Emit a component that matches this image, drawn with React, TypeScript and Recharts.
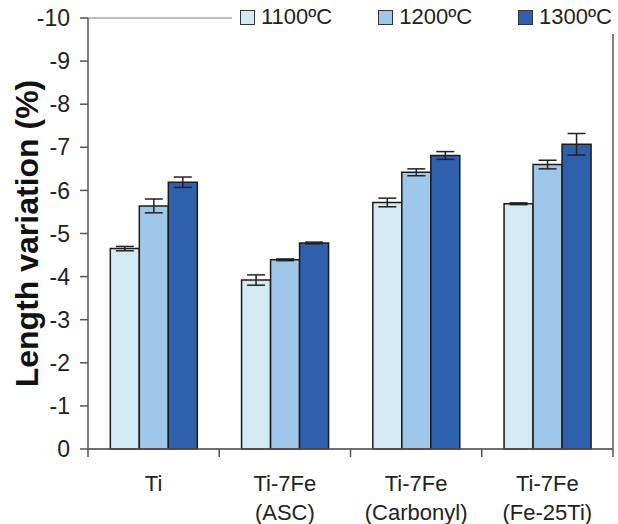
import { BarChart, Bar, XAxis, YAxis, CartesianGrid, ErrorBar, Legend, Label } from "recharts";

// groups on the x axis
const categories = ["Ti", "Ti-7Fe (ASC)", "Ti-7Fe (Carbonyl)", "Ti-7Fe (Fe-25Ti)"];

// length variation (%) per sintering temperature
const v1100 = [-4.65, -3.92, -5.72, -5.69];
const v1200 = [-5.64, -4.39, -6.42, -6.6];
const v1300 = [-6.19, -4.78, -6.81, -7.07];

// error bars (+/-)
const e1100 = [0.05, 0.12, 0.1, 0.02];
const e1200 = [0.16, 0.02, 0.08, 0.1];
const e1300 = [0.12, 0.02, 0.09, 0.25];

const yTicks = [0, -1, -2, -3, -4, -5, -6, -7, -8, -9, -10];

const series = [
  { key: "t1100", err: "e1100", name: "1100ºC", color: "#d3eaf4" },
  { key: "t1200", err: "e1200", name: "1200ºC", color: "#9fc7ea" },
  { key: "t1300", err: "e1300", name: "1300ºC", color: "#2f60ae" },
];

const data = categories.map((name, i) => ({
  name,
  t1100: v1100[i],
  t1200: v1200[i],
  t1300: v1300[i],
  e1100: e1100[i],
  e1200: e1200[i],
  e1300: e1300[i],
}));

const W = 618;
const H = 524;
const Y_AXIS_W = 88;
const RIGHT_W = 5;
const X_AXIS_H = 75;
const FONT = "'Liberation Sans', Arial, sans-serif";
const AXIS = "#555";

function CategoryTick(props: any) {
  const { x, y, payload, index } = props;
  const band = (W - Y_AXIS_W - RIGHT_W) / categories.length;
  const [first, ...rest] = String(payload.value).split(" ");
  return (
    <g>
      <line x1={x - band / 2} x2={x - band / 2} y1={y} y2={y + 8} stroke={AXIS} strokeWidth={1.5} />
      {index === categories.length - 1 && (
        <line x1={x + band / 2} x2={x + band / 2} y1={y} y2={y + 8} stroke={AXIS} strokeWidth={1.5} />
      )}
      <text x={x} y={y + 42} textAnchor="middle" fontSize={22} fill="#222" fontFamily={FONT}>
        {first}
      </text>
      {rest.length > 0 && (
        <text x={x} y={y + 71} textAnchor="middle" fontSize={22} fill="#222" fontFamily={FONT}>
          {rest.join(" ")}
        </text>
      )}
    </g>
  );
}

function TempLegend(props: any) {
  const { payload } = props;
  return (
    <div style={{ display: "flex", background: "#fff", height: 34, alignItems: "center", paddingLeft: 8 }}>
      {(payload || []).map((p: any) => (
        <div key={p.value} style={{ display: "flex", alignItems: "center", marginRight: 46 }}>
          <span
            style={{
              display: "inline-block",
              width: 13,
              height: 13,
              background: p.color,
              border: "1px solid #333",
              marginRight: 6,
            }}
          />
          <span style={{ fontFamily: FONT, fontSize: 22, color: "#222" }}>{p.value}</span>
        </div>
      ))}
    </div>
  );
}

export default function App() {
  return (
    <div style={{ position: "absolute", left: 0, top: 0, width: W, height: H, background: "#fff" }}>
      <BarChart
        width={W}
        height={H}
        data={data}
        margin={{ top: 18, right: 0, bottom: 0, left: 0 }}
        barCategoryGap="17%"
        barGap={0}
      >
        <CartesianGrid horizontal vertical={false} stroke="#777" strokeWidth={1.2} />
        <XAxis
          dataKey="name"
          height={X_AXIS_H}
          tick={<CategoryTick />}
          tickLine={false}
          tickSize={0}
          tickMargin={0}
          axisLine={{ stroke: AXIS, strokeWidth: 1.5 }}
          interval={0}
        />
        <YAxis
          yAxisId="left"
          width={Y_AXIS_W}
          reversed
          domain={[-10, 0]}
          ticks={yTicks}
          interval={0}
          tickSize={8}
          tickMargin={10}
          tickLine={{ stroke: AXIS, strokeWidth: 1.5 }}
          axisLine={{ stroke: AXIS, strokeWidth: 1.5 }}
          tick={{ fontSize: 23, fill: "#222", fontFamily: FONT }}
        >
          <Label
            value="Length variation (%)"
            angle={-90}
            position="insideLeft"
            offset={27}
            style={{ textAnchor: "middle", fontSize: 32, fontWeight: "bold", fill: "#111", fontFamily: FONT }}
          />
        </YAxis>
        <YAxis
          yAxisId="right"
          orientation="right"
          width={RIGHT_W}
          domain={[-10, 0]}
          tick={false}
          tickLine={false}
          axisLine={{ stroke: AXIS, strokeWidth: 1.5 }}
        />
        <Legend
          layout="horizontal"
          verticalAlign="middle"
          content={<TempLegend />}
          wrapperStyle={{ top: 0, left: 232, width: 386 }}
        />
        {series.map((s) => (
          <Bar
            key={s.key}
            yAxisId="left"
            dataKey={s.key}
            name={s.name}
            fill={s.color}
            stroke="#1c1c1c"
            strokeWidth={1.5}
            isAnimationActive={false}
          >
            <ErrorBar dataKey={s.err} width={9} stroke="#222" strokeWidth={1.5} direction="y" />
          </Bar>
        ))}
      </BarChart>
    </div>
  );
}
